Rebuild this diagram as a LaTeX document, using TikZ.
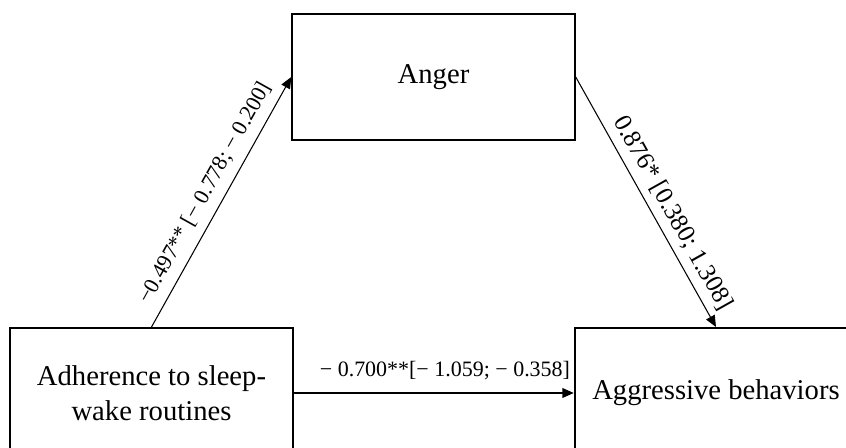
\documentclass[tikz,border=0pt]{standalone}
\usepackage{fontspec}
\setmainfont{Liberation Serif}
\usepackage{tikz}
\usetikzlibrary{arrows.meta}
\usetikzlibrary{positioning}
\tikzset{
  var_box/.style = {draw=black, line width=1.1pt, rectangle, align=center,
    inner sep=0pt, minimum width=5.65cm, font=\fontsize{16.3}{20}\selectfont},% variable
  path_arr/.style = {-{Triangle[length=6.5pt,width=5.5pt]}, line width=0.6pt},% chemin
  path_lbl/.style = {font=\fontsize{12.5}{14}\selectfont, inner sep=2pt}% coefficient
}
\begin{document}
\begin{tikzpicture}
\useasboundingbox (0,0) rectangle (16.92,8.96);
\node [var_box, minimum height=2.52cm] (anger) at (8.67,7.42) {Anger};
\node [var_box, minimum height=2.6cm] (sleep) at (3.03,1.1) {Adherence to sleep-\\wake routines};
\node [var_box, minimum height=2.6cm] (aggr) at (14.32,1.1) {Aggressive behaviors};
\draw [path_arr] (sleep.north) -- node [path_lbl, sloped, above=3pt, pos=0.5] {−0.497** [− 0.778; − 0.200]} (anger.west);
\draw [path_arr] (anger.east) -- node [path_lbl, sloped, above=2pt, pos=0.58, font=\fontsize{14.3}{16}\selectfont] {0.876* [0.380; 1.308]} (aggr.north);
\draw [path_arr, line width=0.9pt] (sleep.east) -- node [path_lbl, above=5pt, pos=0.54] {− 0.700**[− 1.059; − 0.358]} (aggr.west);
\end{tikzpicture}
\end{document}
